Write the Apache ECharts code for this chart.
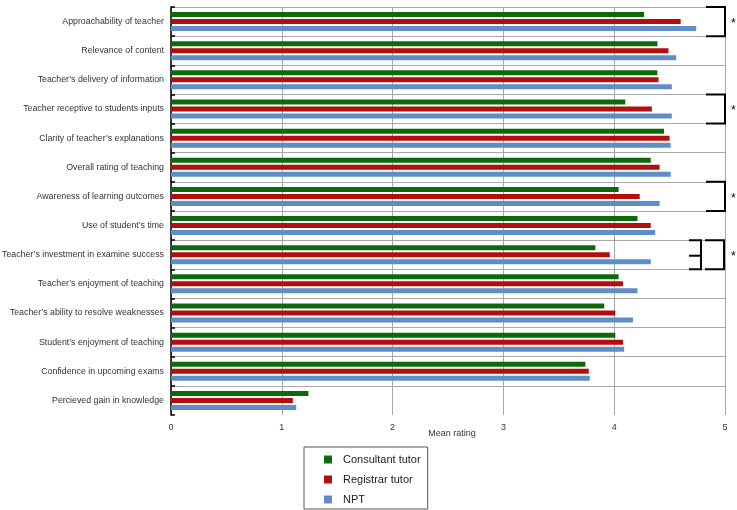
<!DOCTYPE html>
<html>
<head>
<meta charset="utf-8">
<script src="https://cdn.jsdelivr.net/npm/echarts@6/dist/echarts.min.js"></script>
<style>html,body{margin:0;padding:0;background:#fff}#c{width:737px;height:510px}</style>
</head>
<body>
<div id="c"></div>
<script>
var categories = [
  "Approachability of teacher",
  "Relevance of content",
  "Teacher\u2019s delivery of information",
  "Teacher receptive to students inputs",
  "Clarity of teacher\u2019s explanations",
  "Overall rating of teaching",
  "Awareness of learning outcomes",
  "Use of student\u2019s time",
  "Teacher\u2019s investment in examine success",
  "Teacher\u2019s enjoyment of teaching",
  "Teacher\u2019s ability to resolve weaknesses",
  "Student\u2019s enjoyment of teaching",
  "Confidence in upcoming exams",
  "Percieved gain in knowledge"
];
var consultant = [4.27, 4.39, 4.39, 4.10, 4.45, 4.33, 4.04, 4.21, 3.83, 4.04, 3.91, 4.01, 3.74, 1.24];
var registrar  = [4.60, 4.49, 4.40, 4.34, 4.50, 4.41, 4.23, 4.33, 3.96, 4.08, 4.01, 4.08, 3.77, 1.10];
var npt        = [4.74, 4.56, 4.52, 4.52, 4.51, 4.51, 4.41, 4.37, 4.33, 4.21, 4.17, 4.09, 3.78, 1.13];
var seriesNames = ["Consultant tutor", "Registrar tutor", "NPT"];
var xTicks = [0, 1, 2, 3, 4, 5];
// significance brackets: [category index, double bracket flag]
var sigRows = [0, 3, 6, 8];
var sigDouble = [0, 0, 0, 1];

var colors = ["#0c6a0c", "#b40d0d", "#5f8ec6"];
var font = "'Liberation Sans', Arial, sans-serif";

var splitColors = [];
for (var i = 0; i <= categories.length; i++) splitColors.push(i === categories.length ? "rgba(0,0,0,0)" : "#a8a8a8");

var sigData = sigRows.map(function (r, i) { return [xTicks[xTicks.length - 1], r, sigDouble[i]]; });

var chart = echarts.init(document.getElementById('c'), null, {renderer: 'canvas'});
chart.setOption({
  animation: false,
  backgroundColor: '#fff',
  textStyle: {fontFamily: font},
  grid: {left: 171, right: 12, top: 7, bottom: 95, containLabel: false, outerBoundsMode: 'none'},
  xAxis: {
    type: 'value', min: xTicks[0], max: xTicks[xTicks.length - 1], interval: 1,
    name: 'Mean rating', nameLocation: 'middle', nameGap: 14, nameMoveOverlap: false,
    nameTextStyle: {fontSize: 9, color: '#333', fontFamily: font, padding: [0, 0, 0, 8]},
    axisLine: {show: false}, axisTick: {show: false},
    axisLabel: {fontSize: 9, color: '#333', margin: 8, fontFamily: font},
    splitLine: {show: true, lineStyle: {color: '#a8a8a8', width: 1}}
  },
  yAxis: {
    type: 'category', data: categories, inverse: true,
    axisLine: {show: true, lineStyle: {color: '#000', width: 1.5}},
    axisTick: {show: true, inside: true, length: 4, lineStyle: {color: '#000', width: 1.5}},
    axisLabel: {fontSize: 8.8, color: '#333', margin: 7, fontFamily: font},
    splitLine: {show: true, lineStyle: {color: splitColors, width: 1}}
  },
  legend: {
    data: seriesNames, orient: 'vertical', left: 304, top: 447,
    icon: 'rect', itemWidth: 8, itemHeight: 8, itemGap: 9,
    padding: [7, 7, 4, 20],
    borderColor: '#555', borderWidth: 1,
    textStyle: {fontSize: 11, color: '#222', fontFamily: font, padding: [0, 0, 0, 6]}
  },
  series: [
    {name: seriesNames[0], type: 'bar', data: consultant, barWidth: 5, barGap: '40%', itemStyle: {color: colors[0]}},
    {name: seriesNames[1], type: 'bar', data: registrar, barWidth: 5, barGap: '40%', itemStyle: {color: colors[1]}},
    {name: seriesNames[2], type: 'bar', data: npt, barWidth: 5, barGap: '40%', itemStyle: {color: colors[2]}},
    {
      name: 'sig', type: 'custom', clip: false, z: 10,
      encode: {x: 0, y: 1},
      data: sigData,
      renderItem: function (params, api) {
        var c = api.coord([api.value(0), api.value(1)]);
        var h = api.size([0, 1])[1];
        var top = c[1] - h / 2, bot = c[1] + h / 2;
        var dbl = api.value(2) === 1;
        var xr = dbl ? c[0] - 1 : c[0];
        var style = {stroke: '#000', lineWidth: 2, fill: null};
        var kids = [{
          type: 'polyline',
          shape: {points: [[xr - 19, top], [xr, top], [xr, bot], [xr - 19, bot]]},
          style: style
        }];
        if (dbl) {
          var xi = xr - 23;
          kids.push({type: 'polyline', shape: {points: [[xi - 12, top], [xi, top], [xi, bot], [xi - 12, bot]]}, style: style});
          kids.push({type: 'line', shape: {x1: xi - 12, y1: c[1] + 1, x2: xi, y2: c[1] + 1}, style: style});
        }
        kids.push({
          type: 'text',
          style: {text: '*', x: c[0] + 6, y: c[1] + 2, fill: '#000', fontSize: 12, fontFamily: font, textVerticalAlign: 'middle'}
        });
        return {type: 'group', children: kids};
      }
    }
  ]
});
</script>
</body>
</html>
